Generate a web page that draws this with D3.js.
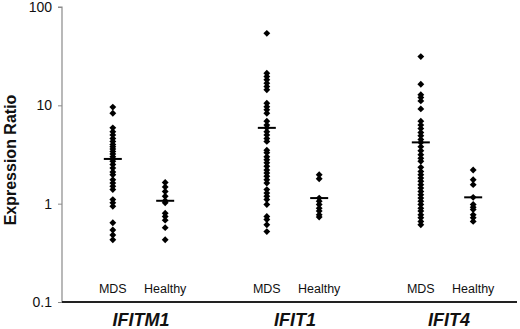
<!DOCTYPE html>
<html><head><meta charset="utf-8">
<script src="https://cdn.jsdelivr.net/npm/d3@7"></script>
<style>html,body{margin:0;padding:0;background:#fff}</style>
</head><body>
<svg id="chart" width="520" height="329"></svg>
<script>
const genes = ["IFITM1", "IFIT1", "IFIT4"];
const groups = ["MDS", "Healthy"];
const yTicks = [0.1, 1, 10, 100];
const yTickLabels = ["0.1", "1", "10", "100"];

const ifitm1MDS = [9.6, 8.3, 5.9, 5.4, 5.0, 4.6, 4.3, 4.0, 3.8, 3.6, 3.4, 3.2, 3.0, 2.85, 2.7, 2.5, 2.3, 2.1, 1.97, 1.75, 1.62, 1.5, 1.39, 1.1, 1.02, 0.94, 0.64, 0.54, 0.48, 0.43];
const ifitm1Healthy = [1.64, 1.48, 1.33, 1.19, 1.07, 1.02, 0.8, 0.74, 0.68, 0.57, 0.43];
const ifit1MDS = [54, 21.2, 19.6, 18.2, 16.8, 15.5, 14.4, 10.5, 9.7, 9.0, 8.3, 6.9, 6.3, 5.9, 5.4, 5.0, 4.6, 4.3, 3.5, 3.3, 3.0, 2.8, 2.6, 2.4, 2.2, 2.05, 1.9, 1.75, 1.62, 1.39, 1.28, 1.19, 1.1, 0.98, 0.74, 0.69, 0.61, 0.52];
const ifit1Healthy = [1.97, 1.79, 1.14, 1.06, 0.98, 0.9, 0.84, 0.77, 0.73];
const ifit4MDS = [31.3, 16.4, 12.8, 12.0, 11.1, 9.2, 6.9, 6.3, 5.8, 5.3, 4.9, 4.5, 4.2, 3.8, 3.45, 3.15, 2.9, 2.7, 2.34, 2.13, 1.97, 1.82, 1.69, 1.56, 1.44, 1.33, 1.23, 1.14, 1.06, 0.98, 0.9, 0.84, 0.77, 0.72, 0.66, 0.61];
const ifit4Healthy = [2.2, 1.75, 1.56, 1.16, 0.98, 0.92, 0.87, 0.77, 0.72, 0.66];
const medians = [[2.85, 1.07], [5.9, 1.14], [4.2, 1.16]];

const seriesData = [
  [ifitm1MDS, ifitm1Healthy],
  [ifit1MDS, ifit1Healthy],
  [ifit4MDS, ifit4Healthy]
];

const svg = d3.select("#chart");
const y = d3.scaleLog().domain([0.1, 100]).range([302, 7]);
const xGene = d3.scaleBand().domain(genes).range([62, 524]);
const xGroup = d3.scalePoint().domain(groups).range([xGene.bandwidth() * 0.33, xGene.bandwidth() * 0.67]);

// y axis
const yAxis = d3.axisLeft(y).tickValues(yTicks).tickFormat((d, i) => yTickLabels[i]).tickSize(4).tickPadding(6);
const ya = svg.append("g").attr("transform", "translate(62,0)").call(yAxis);
ya.select(".domain").attr("stroke", "#8a8a8a").attr("stroke-width", 1.2).attr("d", "M-4,7H0V302");
ya.selectAll(".tick line").attr("stroke", "#8a8a8a");
ya.selectAll(".tick text").attr("font-family", "Liberation Sans, Arial, sans-serif").attr("font-size", 14).attr("fill", "#111");

// x axis baseline
const xa = svg.append("g").attr("transform", "translate(0,302)")
  .call(d3.axisBottom(xGene).tickSize(0).tickFormat(""));
xa.select(".domain").attr("stroke", "#222").attr("stroke-width", 1.8).attr("d", "M62,0H517");

// y label
svg.append("text")
  .attr("transform", "translate(16,160) rotate(-90)")
  .attr("text-anchor", "middle")
  .attr("font-family", "Liberation Sans, Arial, sans-serif")
  .attr("font-weight", "bold").attr("font-size", 16).attr("fill", "#111")
  .text("Expression Ratio");

const sym = d3.symbol().type(d3.symbolDiamond2).size(30);

genes.forEach((g, gi) => {
  const gx = xGene(g);
  groups.forEach((grp, si) => {
    const cx = gx + xGroup(grp);
    svg.append("g").selectAll("path").data(seriesData[gi][si]).join("path")
      .attr("d", sym)
      .attr("transform", d => `translate(${cx},${y(d)})`)
      .attr("fill", "#000");
    const m = medians[gi][si];
    svg.append("line")
      .attr("x1", cx - 9).attr("x2", cx + 9)
      .attr("y1", y(m)).attr("y2", y(m))
      .attr("stroke", "#000").attr("stroke-width", 2);
    svg.append("text")
      .attr("x", cx).attr("y", 293)
      .attr("text-anchor", "middle")
      .attr("font-family", "Liberation Sans, Arial, sans-serif")
      .attr("font-size", 12.5).attr("fill", "#111")
      .text(grp);
  });
  svg.append("text")
    .attr("x", gx + xGene.bandwidth() / 2 + 2).attr("y", 326)
    .attr("text-anchor", "middle")
    .attr("font-family", "Liberation Sans, Arial, sans-serif")
    .attr("font-weight", "bold").attr("font-style", "italic")
    .attr("font-size", 18).attr("fill", "#111")
    .text(g);
});
</script>
</body></html>
